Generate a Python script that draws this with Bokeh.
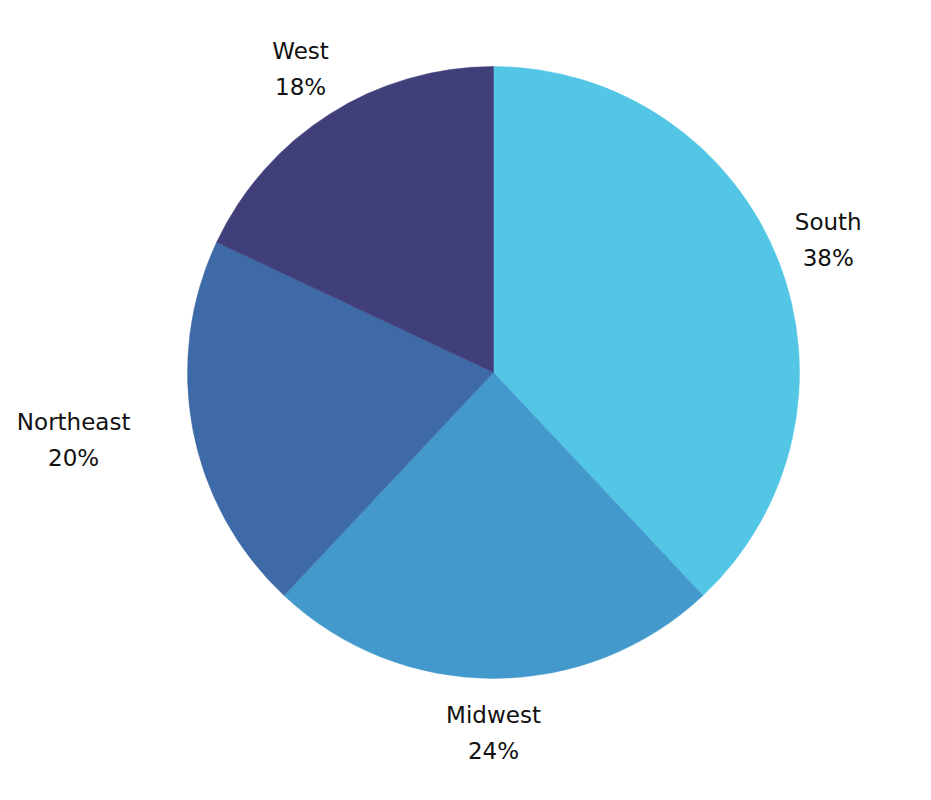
import math
from bokeh.plotting import figure
from bokeh.models import Range1d, ColumnDataSource
from bokeh.core.properties import value
from bokeh.embed import file_html
from bokeh.resources import INLINE

regions = ["South", "Midwest", "Northeast", "West"]
shares = [38, 24, 20, 18]
colors = ["#53C6E6", "#4399CB", "#3E6BA7", "#413F7A"]

W, H = 915, 784
cx, cy = 493, 412
R = 306
RL = 360
FONT_PX = 23

p = figure(width=W, height=H, output_backend="svg", toolbar_location=None,
           x_range=Range1d(0, W), y_range=Range1d(0, H),
           x_axis_type=None, y_axis_type=None, min_border=0)
p.outline_line_color = None
p.xgrid.visible = False
p.ygrid.visible = False

total = sum(shares)
starts, ends, lx, ly, names, pcts = [], [], [], [], [], []
c = 0.0
for name, s in zip(regions, shares):
    c0 = c / total
    c1 = (c + s) / total
    starts.append(math.pi / 2 - 2 * math.pi * c1)
    ends.append(math.pi / 2 - 2 * math.pi * c0)
    mid = 2 * math.pi * (c0 + c1) / 2
    sx, sy = math.sin(mid), math.cos(mid)
    x = cx + RL * sx
    if abs(sx) > 0.95:
        x += math.copysign(0.32 * FONT_PX * len(name), sx)
    lx.append(x)
    ly.append(cy + RL * sy)
    names.append(name)
    pcts.append(f"{s}%")
    c += s

src = ColumnDataSource(dict(start=starts, end=ends, color=colors, x=lx, y=ly,
                            name=names, pct=pcts))
p.wedge(x=cx, y=cy, radius=R, start_angle="start", end_angle="end",
        fill_color="color", line_color="color", line_width=0.5, source=src)
for col, off in (("name", -18), ("pct", 18)):
    p.text(x="x", y="y", text=col, text_align="center", text_baseline="middle",
           y_offset=off, text_font=value("DejaVu Sans"),
           text_font_size=f"{FONT_PX}px", text_color="#111111", source=src)

open("out.html", "w").write(file_html(p, INLINE))
